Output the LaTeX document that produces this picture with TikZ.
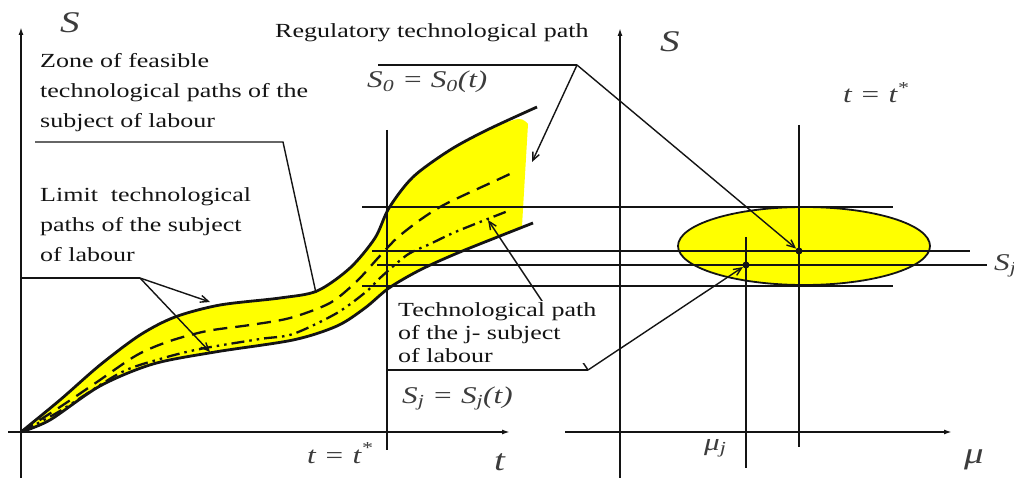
\documentclass[tikz,border=0pt]{standalone}
\usepackage{fontspec}
\setmainfont{Liberation Serif}[FakeStretch=1.3]
\usetikzlibrary{arrows.meta}
\definecolor{zoneyellow}{RGB}{255,255,0}
\definecolor{mathgray}{RGB}{60,60,60}
\definecolor{inkblack}{RGB}{20,20,20}
\begin{document}
\begin{tikzpicture}[x=1pt,y=-1pt,
  axis/.style={line width=1.6pt,draw=inkblack,-{Latex[length=8pt,width=5pt]}},
  guide/.style={line width=1.5pt,draw=inkblack},
  bound/.style={line width=2.8pt,draw=inkblack},
  regpath/.style={line width=2.3pt,draw=inkblack,dash pattern=on 14pt off 8pt},
  jpath/.style={line width=2.3pt,draw=inkblack,dash pattern=on 13pt off 5pt on 2.5pt off 5pt on 2.5pt off 5pt},
  callout/.style={line width=1.4pt,draw=inkblack},
  pointer/.style={callout,-{Straight Barb[length=8pt,width=7pt]}},
  lbl/.style={font=\fontsize{20}{30}\selectfont,inner sep=0pt,align=left,text=inkblack},
  mlbl/.style={font=\fontsize{24}{28}\selectfont\itshape,inner sep=0pt,text=mathgray},
  axlbl/.style={font=\fontsize{30}{32}\selectfont\itshape,inner sep=0pt,text=mathgray},
  dot/.style={circle,fill=inkblack,inner sep=0pt,minimum size=7pt}
]
\useasboundingbox[fill=white] (0,0) rectangle (1014,478);

% yellow zone
\fill[zoneyellow] plot[smooth] coordinates {(21,432) (60,400) (100,365) (140,335) (175,317) (220,305) (280,298) (317,291) (350,268) (375,238) (389,208) (413,177) (450,150) (487,130) (518,119) (528,124)}
  -- (522,226) -- plot[smooth] coordinates {(460,252) (420,270) (389,288) (365,308) (337,326) (293,340) (215,352) (153,364) (100,386) (50,420) (21,432)} -- cycle;

% ellipse
\draw[line width=1.8pt,draw=inkblack,fill=zoneyellow] (804,246) ellipse [x radius=126, y radius=39];

% paths
\draw[bound] plot[smooth] coordinates {(21,432) (60,400) (100,365) (140,335) (175,317) (220,305) (280,298) (317,291) (350,268) (375,238) (389,208) (413,177) (450,150) (487,130) (537,107)};
\draw[bound] plot[smooth] coordinates {(21,432) (50,420) (100,386) (153,364) (215,352) (293,340) (337,326) (365,308) (389,288) (420,270) (460,252) (533,223)};
\draw[regpath] plot[smooth] coordinates {(21,432) (60,407) (97,382) (137,355) (170,341) (207,331) (250,325) (290,318) (330,303) (357,281) (378,258) (397,238) (420,220) (440,207) (460,197) (497,180) (512,173)};
\draw[jpath] plot[smooth] coordinates {(21,432) (60,411) (120,373) (160,359) (200,349) (260,339) (293,334) (337,313) (367,291) (380,278) (407,255) (430,244) (453,233) (480,222) (508,211)};

% axes
\coordinate (s1bot) at (21,478); \coordinate (s1top) at (21,27);
\coordinate (t1l) at (8,432); \coordinate (t1r) at (510,432);
\coordinate (s2bot) at (620,478); \coordinate (s2top) at (620,28);
\coordinate (mul) at (565,432); \coordinate (mur) at (952,432);
\draw[axis] (s1bot) -- (s1top);
\draw[axis] (t1l) -- (t1r);
\draw[axis] (s2bot) -- (s2top);
\draw[axis] (mul) -- (mur);

% guide lines
\coordinate (ts1a) at (387,130); \coordinate (ts1b) at (387,450);
\coordinate (ts2a) at (799,125); \coordinate (ts2b) at (799,447);
\coordinate (muja) at (746,237); \coordinate (mujb) at (746,468);
\draw[guide] (ts1a) -- (ts1b);
\draw[guide] (ts2a) -- (ts2b);
\draw[guide] (muja) -- (mujb);
\coordinate (h1a) at (362,207); \coordinate (h1b) at (893,207);
\coordinate (h2a) at (372,251); \coordinate (h2b) at (970,251);
\coordinate (h3a) at (377,265); \coordinate (h3b) at (987,265);
\coordinate (h4a) at (362,286); \coordinate (h4b) at (893,286);
\draw[guide] (h1a) -- (h1b);
\draw[guide] (h2a) -- (h2b);
\draw[guide] (h3a) -- (h3b);
\draw[guide] (h4a) -- (h4b);

% points
\node[dot] (p0) at (799,251) {};
\node[dot] (pj) at (746,265) {};

% text labels
\node[lbl,anchor=base west] (reg) at (275,38) {Regulatory technological path};
\node[lbl,anchor=north west] (zone) at (40,53) {Zone of feasible\\technological paths of the\\subject of labour};
\node[lbl,anchor=north west] (limit) at (40,187) {Limit\ \ technological\\paths of the subject\\of labour};

% callouts
\coordinate (zu) at (35,142); \coordinate (zc) at (283,142); \coordinate (zt) at (316,293);
\draw[callout] (zu) -- (zc) -- (zt);
\coordinate (lu) at (21,278); \coordinate (lc) at (140,278);
\coordinate (lt1) at (210,302); \coordinate (lt2) at (210,352);
\draw[callout] (lu) -- (lc);
\draw[pointer] (lc) -- (lt1);
\draw[pointer] (lc) -- (lt2);
\coordinate (ru) at (378,65); \coordinate (rc) at (577,65); \coordinate (rt) at (532,162);
\draw[callout] (ru) -- (rc);
\draw[pointer] (rc) -- (rt);
\draw[pointer] (rc) -- (p0);
\coordinate (ju) at (388,370); \coordinate (jc) at (588,370); \coordinate (jt) at (488,220);
\draw[pointer] (jc) -- (jt);
\node[lbl,anchor=north west,fill=white,font=\fontsize{20}{23}\selectfont,inner sep=1pt] (tech) at (397,301) {Technological path\\of the j- subject\\of labour};
\draw[callout] (ju) -- (jc);
\draw[pointer] (jc) -- (pj);

% math labels
\node[axlbl,anchor=base west] (S1) at (60,33) {S};
\node[axlbl,anchor=base west] (S2) at (660,52) {S};
\node[axlbl,anchor=base west] (tl) at (494,470) {t};
\node[axlbl,anchor=base west] (mul) at (964,463) {μ};
\node[mlbl,anchor=base west] (mujl) at (704,450) {μ\textsubscript{j}};
\node[mlbl,anchor=base west] (ts1) at (307,463) {t = t\textsuperscript{*}};
\node[mlbl,anchor=base west] (ts2) at (843,103) {t = t\textsuperscript{*}};
\node[mlbl,anchor=base west] (s0eq) at (367,88) {S\textsubscript{0} = S\textsubscript{0}(t)};
\node[mlbl,anchor=base west] (sjeq) at (402,403) {S\textsubscript{j} = S\textsubscript{j}(t)};
\node[mlbl,anchor=base west] (sjr) at (994,270) {S\textsubscript{j}};
\end{tikzpicture}
\end{document}
